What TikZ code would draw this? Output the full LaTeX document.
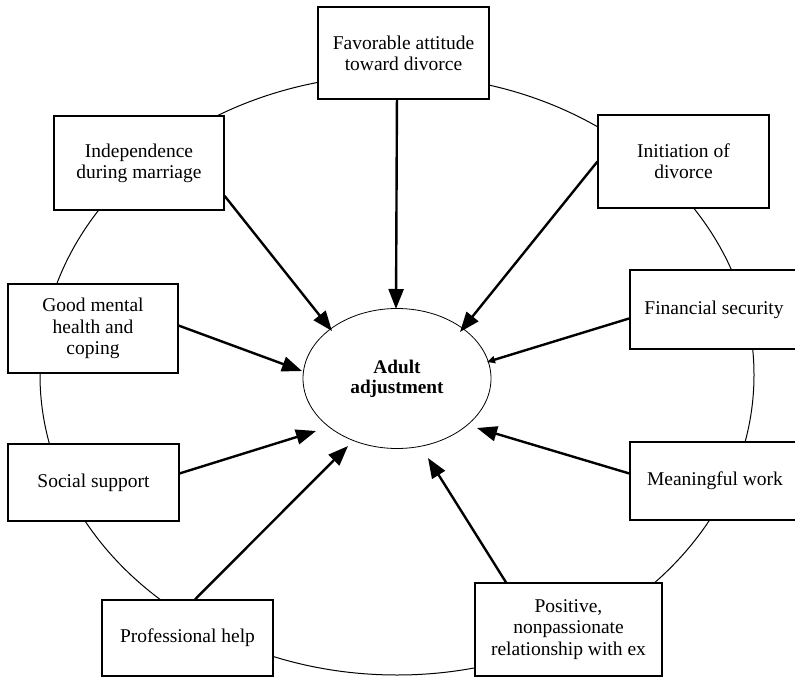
\documentclass[tikz,border=0pt]{standalone}
\usepackage{fontspec}
\setmainfont{Liberation Serif}
\usetikzlibrary{arrows.meta,shapes.geometric}

\begin{document}
\begin{tikzpicture}[x=1pt,y=-1pt,
  factor/.style={draw, fill=white, line width=1.1pt, align=center, inner sep=0pt,
    font=\fontsize{19.5}{21.3}\selectfont},
  link/.style={line width=2.4pt, -{Triangle[length=20pt,width=15pt]}},
  ]
\useasboundingbox (0,0) rectangle (795,677);

% ring joining the factors
\draw[line width=1pt] (397,375) ellipse [x radius=357pt, y radius=300pt];

% outcome in the centre
\node[ellipse, draw, line width=0.8pt, inner sep=0pt, minimum width=188pt, minimum height=140pt,
  align=center, font=\fontsize{19.3}{20}\selectfont\bfseries] (adj) at (397,378.5) {Adult\\adjustment};

% factors around the ring
\node[factor, minimum width=171pt, minimum height=92pt] (fav) at (403.5,53) {Favorable attitude\\toward divorce};
\node[factor, minimum width=171pt, minimum height=93pt] (ini) at (683.5,161.5) {Initiation of\\divorce};
\node[factor, minimum width=170pt, minimum height=94pt] (ind) at (139,163) {Independence\\during marriage};
\node[factor, minimum width=170pt, minimum height=89pt] (gm) at (93,328.5) {Good mental\\health and\\coping};
\node[factor, minimum width=171pt, minimum height=77pt] (soc) at (93.5,482.5) {Social support};
\node[factor, minimum width=171pt, minimum height=76pt] (pro) at (187.5,638) {Professional help};
\node[factor, minimum width=168pt, minimum height=79pt] (fin) at (714,309.5) {Financial security};
\node[factor, minimum width=170pt, minimum height=78pt] (mw) at (715,481) {Meaningful work};
\node[factor, minimum width=187pt, minimum height=93pt] (pos) at (568.5,629.5) {Positive,\\nonpassionate\\relationship with ex};

% arrow tips near the outcome
\coordinate (tfav) at (396,309);
\coordinate (tind) at (332,331);
\coordinate (tini) at (460,332);
\coordinate (tfin) at (487,362);
\coordinate (tgm)  at (302,371);
\coordinate (tsoc) at (316,431);
\coordinate (tpro) at (348,446);
\coordinate (tmw)  at (477,428);
\coordinate (tpos) at (428,458);

% influences
\draw[link] (fav.-98.6) -- (tfav);
\draw[link] (ind.-21) -- (tind);
\draw[link] (ini.west) -- (tini);
\draw[line width=2.4pt, -{Triangle[length=8pt,width=7pt]}] (fin.186) -- (tfin);
\draw[link] (gm.2) -- (tgm);
\draw[link] (soc.6) -- (tsoc);
\draw[link] (pro.79) -- (tpro);
\draw[link] (mw.175) -- (tmw);
\draw[link] (pos.143) -- (tpos);
\end{tikzpicture}
\end{document}
